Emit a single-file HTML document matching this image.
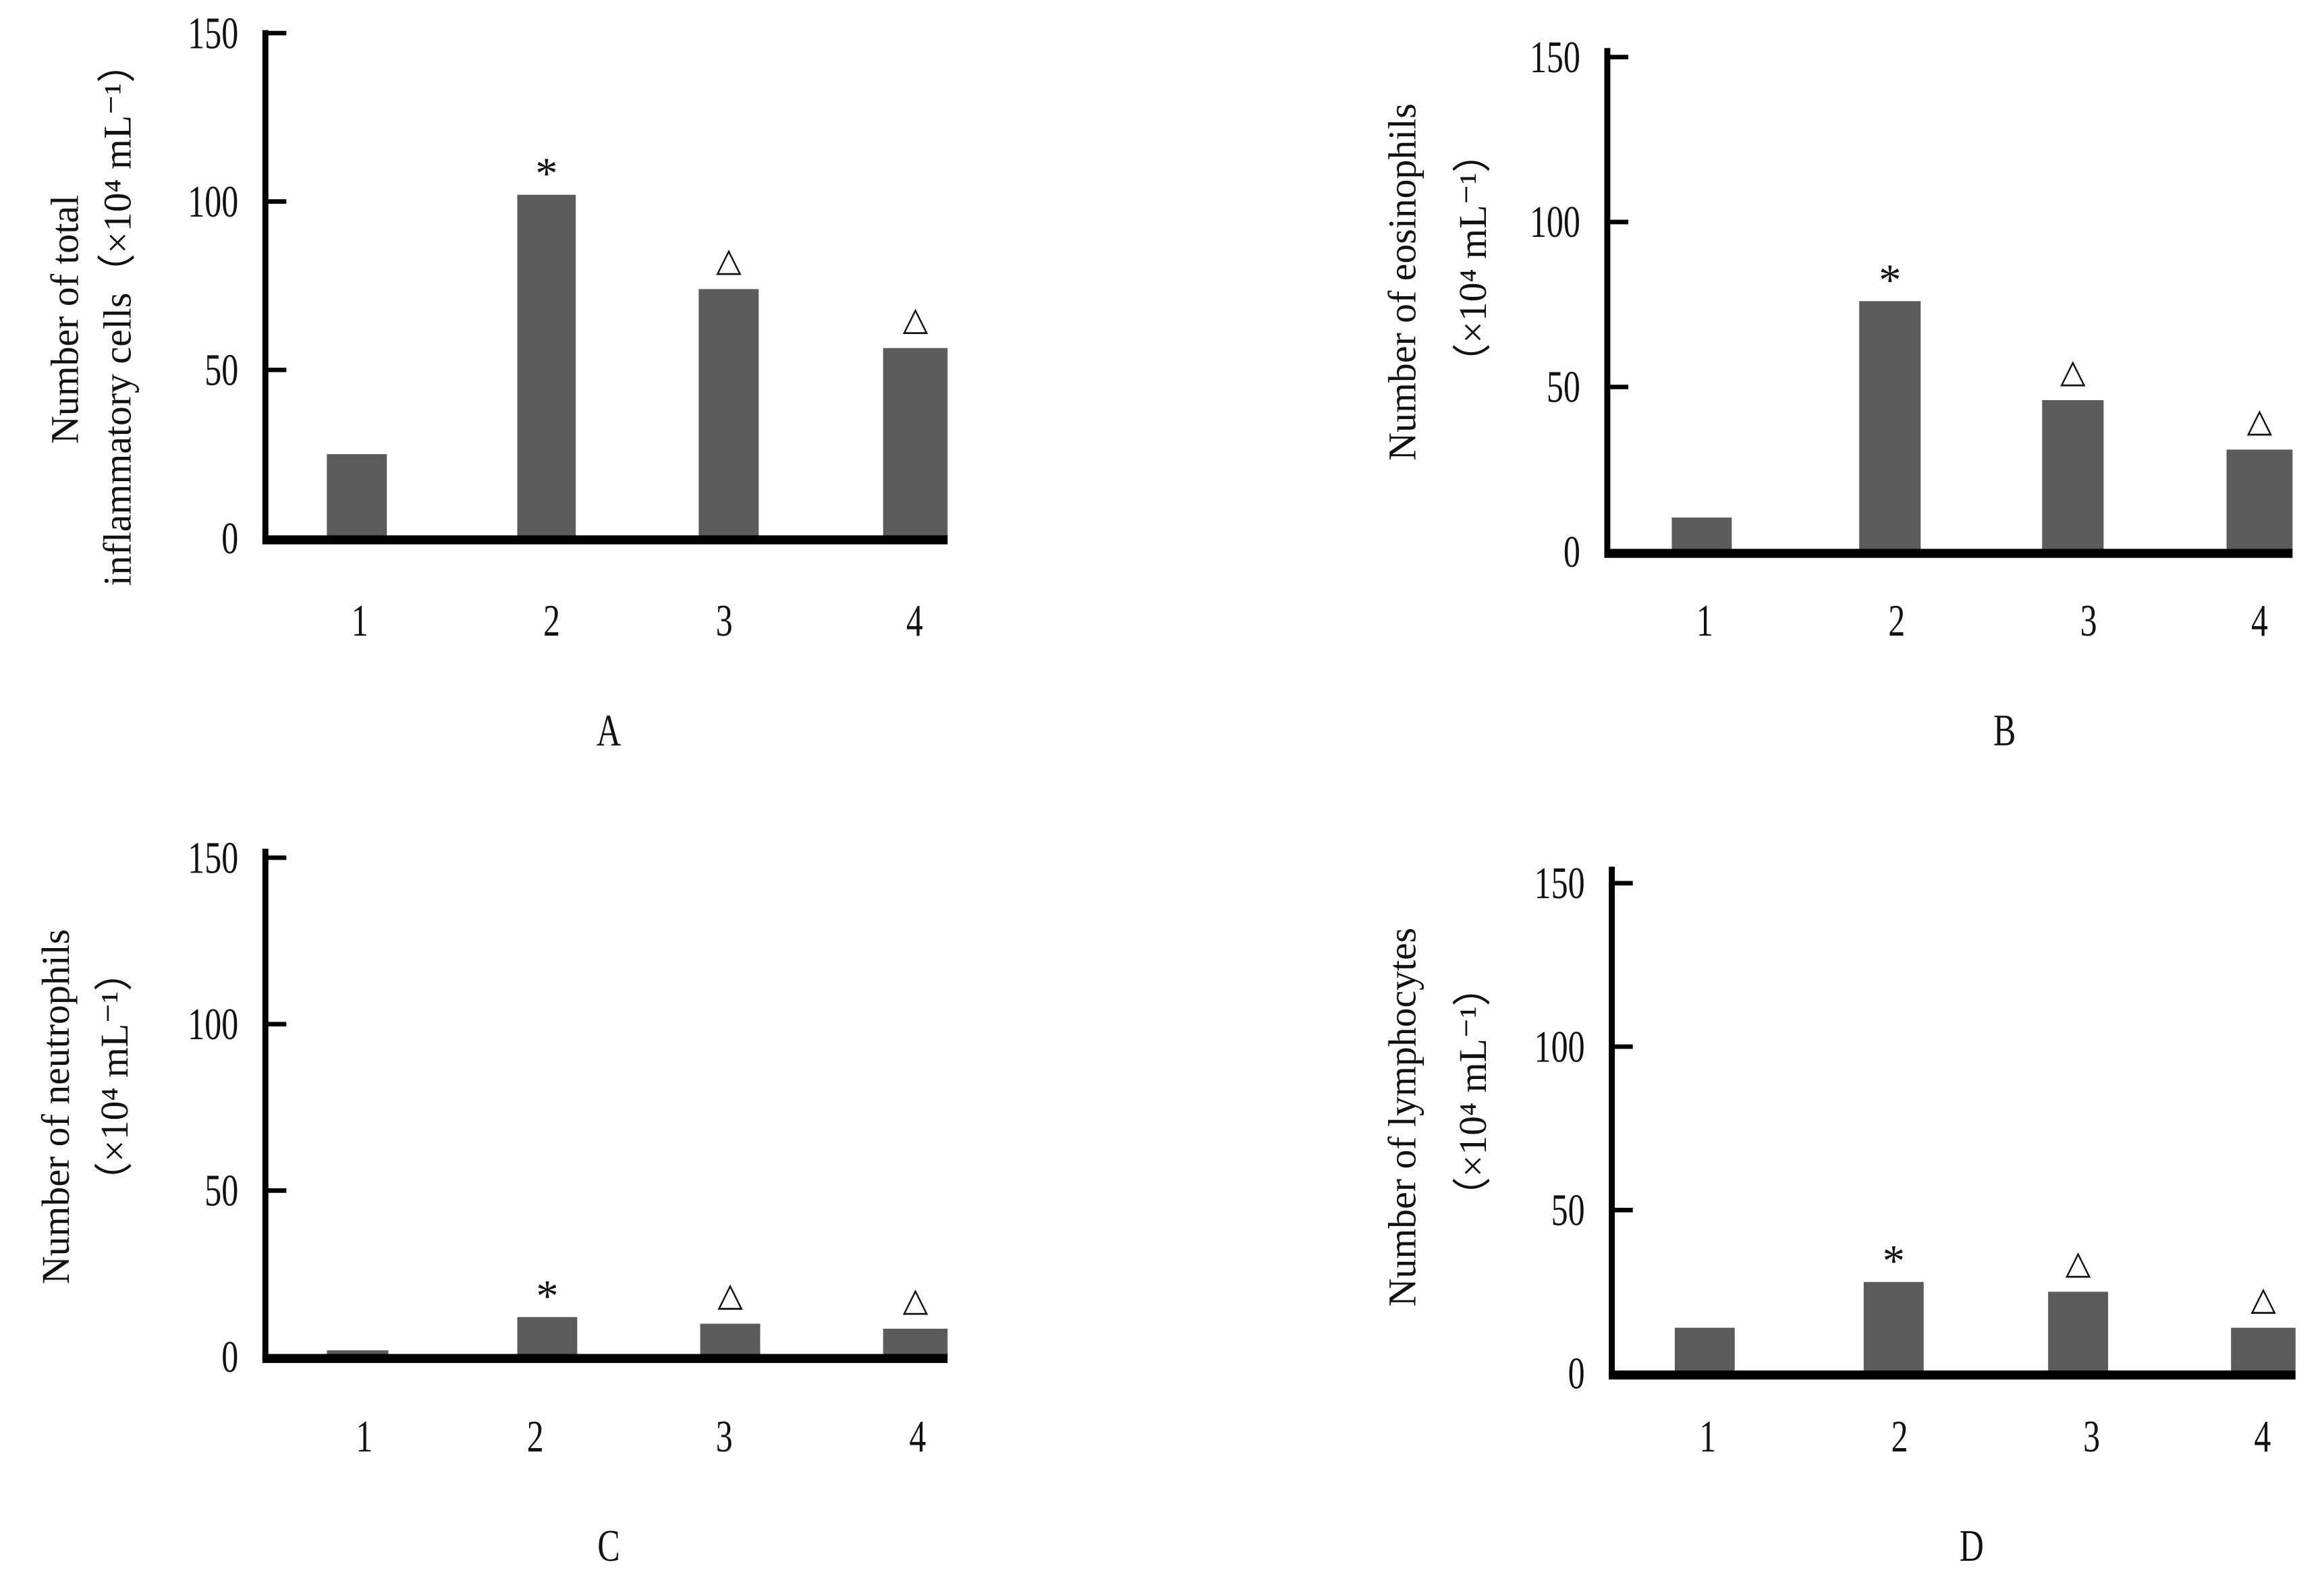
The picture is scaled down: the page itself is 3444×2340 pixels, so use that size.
<!DOCTYPE html>
<html><head><meta charset="utf-8"><style>
html,body{margin:0;padding:0;background:#fff;}
svg{display:block;}
text{font-family:"Liberation Serif",serif;fill:#111;}
</style></head><body>
<svg id="chart" width="3444" height="2340" viewBox="0 0 1550 1053" xmlns="http://www.w3.org/2000/svg"></svg>
<script>
const categories = ["1","2","3","4"];
const yTicks = [0,50,100,150];
const valuesA = [25,102,74,56.5];
const valuesB = [10.4,76,46,31];
const valuesC = [2,12,10,8.5];
const valuesD = [14,28,25,14];
const marksA = ["","*","△","△"];
const marksB = ["","*","△","△"];
const marksC = ["","*","△","△"];
const marksD = ["","*","△","△"];

const panels = [
 {id:"a",letter:"A",values:valuesA,marks:marksA,ax:177,top:20,y0:359,y150:22,xEnd:632,barL:[218,345,466,589],barW:[40,39,40,43],labX:[240,368,483,610],labY:424,letX:406,letY:497,
  titles:["Number of total","inflammatory cells（×10⁴ mL⁻¹）"],tX:[52,87],tY:[213,210]},
 {id:"b",letter:"B",values:valuesB,marks:marksB,ax:1072,top:32,y0:368,y150:38,xEnd:1529,barL:[1115,1240,1362,1485],barW:[40,41,41,44],labX:[1137,1265,1393,1507],labY:424,letX:1337,letY:497,
  titles:["Number of eosinophils","（×10⁴ mL⁻¹）"],tX:[944,991],tY:[188,172]},
 {id:"c",letter:"C",values:valuesC,marks:marksC,ax:177,top:566,y0:905,y150:572,xEnd:632,barL:[218,345,467,589],barW:[41,40,40,43],labX:[243,357,483,612],labY:968,letX:406,letY:1041,
  titles:["Number of neutrophils","（×10⁴ mL⁻¹）"],tX:[46,85],tY:[738,718]},
 {id:"d",letter:"D",values:valuesD,marks:marksD,ax:1075,top:578,y0:916,y150:589,xEnd:1531,barL:[1117,1243,1366,1488],barW:[40,40,40,43],labX:[1139,1267,1395,1509],labY:968,letX:1315,letY:1041,
  titles:["Number of lymphocytes","（×10⁴ mL⁻¹）"],tX:[944,991],tY:[745,728]}
];
const svg = document.getElementById("chart");
const NS = "http://www.w3.org/2000/svg";
function mk(tag, attrs, parent){
  const e = document.createElementNS(NS, tag);
  for (const k in attrs) e.setAttribute(k, attrs[k]);
  parent.appendChild(e);
  return e;
}
function cond(x){ return "translate("+x+",0) scale(0.75,1) translate("+(-x)+",0)"; }
panels.forEach(p=>{
  const g = mk("g",{},svg);
  
  
  const yScale = v => p.y0 - (p.y0 - p.y150) * v / 150;
  p.values.forEach((v,i)=>{
    const y = yScale(v);
    const r = mk("rect",{x:p.barL[i],y:y,width:p.barW[i],height:p.y0-y,fill:"#5b5b5b"},g);
    
    
    if (p.marks[i]) {
      const m = mk("text",{x:p.barL[i]+p.barW[i]/2,y:y-(p.marks[i]==="*"?4:12),"text-anchor":"middle","font-size":p.marks[i]==="*"?30:22},g);
      m.textContent = p.marks[i];
      
      
    }
  });
  const ya = mk("line",{x1:p.ax,y1:p.top,x2:p.ax,y2:p.y0+3,stroke:"#000","stroke-width":4},g);
  
  
  yTicks.forEach(t=>{
    const y = yScale(t);
    if (t>0) {
      const tl = mk("line",{x1:p.ax,y1:y,x2:p.ax+14,y2:y,stroke:"#000","stroke-width":3},g);
      
      
    }
    const tx = mk("text",{x:p.ax-18,y:y+10,"text-anchor":"end","font-size":30,transform:cond(p.ax-18)},g);
    tx.textContent = t;
    
    
  });
  const xa = mk("line",{x1:p.ax-2,y1:p.y0+1,x2:p.xEnd,y2:p.y0+1,stroke:"#000","stroke-width":6},g);
  
  
  categories.forEach((c,i)=>{
    const t = mk("text",{x:p.labX[i],y:p.labY,"text-anchor":"middle","font-size":30,transform:cond(p.labX[i])},g);
    t.textContent = c;
    
    
  });
  const L = mk("text",{x:p.letX,y:p.letY,"text-anchor":"middle","font-size":30,transform:cond(p.letX)},g);
  L.textContent = p.letter;
  
  
  p.titles.forEach((s,i)=>{
    const t = mk("text",{x:0,y:0,"text-anchor":"middle","font-size":26,transform:"translate("+p.tX[i]+","+p.tY[i]+") rotate(-90)"},g);
    t.textContent = s;
    
    
  });
});
</script>
</body></html>
